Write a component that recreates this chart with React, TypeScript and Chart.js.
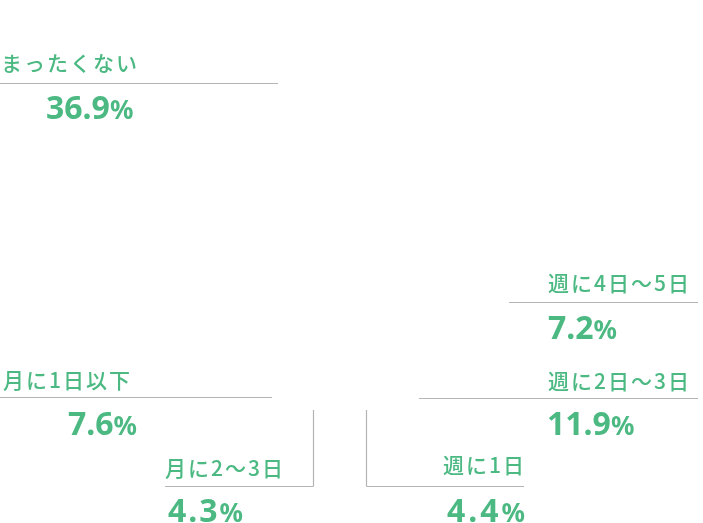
import React, { useEffect, useRef } from "react";
import { Chart, registerables } from "chart.js";

Chart.register(...registerables);

const categories = ["まったくない", "月に1日以下", "月に2〜3日", "週に1日", "週に2日〜3日", "週に4日〜5日"];
const values = [36.9, 7.6, 4.3, 4.4, 11.9, 7.2];

const GREEN = "#4cb983";
const GRAY = "#b4b4b4";

type Layout = {
  lx: number; ly: number; lAlign: CanvasTextAlign;
  x1: number; x2: number; y: number;
  vx: number; vy: number; vAlign: "left" | "right";
  vert?: [number, number, number];
  spacing: number;
};

const layout: Layout[] = [
  { lx: 1, ly: 63, lAlign: "left", x1: 0, x2: 278, y: 83.5, vx: 46, vy: 108, vAlign: "left", spacing: 0 },
  { lx: 3, ly: 380, lAlign: "left", x1: 0, x2: 272, y: 397.5, vx: 68, vy: 424, vAlign: "left", spacing: 0 },
  { lx: 165, ly: 468, lAlign: "left", x1: 165, x2: 313.5, y: 486.5, vx: 168, vy: 511, vAlign: "left", vert: [313.5, 410, 486.5], spacing: 2 },
  { lx: 524, ly: 465, lAlign: "right", x1: 366.5, x2: 524, y: 486.5, vx: 525, vy: 511, vAlign: "right", vert: [366.5, 410, 486.5], spacing: 3 },
  { lx: 548, ly: 381, lAlign: "left", x1: 419, x2: 698, y: 398.5, vx: 547, vy: 424, vAlign: "left", spacing: 0 },
  { lx: 548, ly: 283, lAlign: "left", x1: 509, x2: 698, y: 302.5, vx: 548, vy: 328, vAlign: "left", spacing: 0 },
];

const LABEL_FONT = "500 21px 'Noto Sans CJK JP', 'Noto Sans', sans-serif";
const LABEL_SPACING = 2;
const NUM_FONT = "bold 32px 'Noto Sans', 'Noto Sans CJK JP', sans-serif";
const PCT_FONT = "bold 26px 'Noto Sans', 'Noto Sans CJK JP', sans-serif";

const labelPlugin = {
  id: "calloutLabels",
  afterDraw(chart: any) {
    const ctx: CanvasRenderingContext2D = chart.ctx;
    const labels: string[] = chart.data.labels;
    const data: number[] = chart.data.datasets[0].data;
    ctx.save();
    labels.forEach((lab, i) => {
      const L = layout[i];
      // leader lines
      ctx.strokeStyle = GRAY;
      ctx.lineWidth = 1.2;
      ctx.beginPath();
      if (L.vert) {
        ctx.moveTo(L.vert[0], L.vert[1]);
        ctx.lineTo(L.vert[0], L.vert[2]);
      }
      ctx.moveTo(L.x1, L.y);
      ctx.lineTo(L.x2, L.y);
      ctx.stroke();

      // category text
      ctx.fillStyle = GREEN;
      ctx.font = LABEL_FONT;
      (ctx as any).letterSpacing = LABEL_SPACING + "px";
      ctx.textBaseline = "middle";
      ctx.textAlign = L.lAlign;
      ctx.fillText(lab, L.lAlign === "right" ? L.lx + LABEL_SPACING : L.lx, L.ly);

      // value text
      const num = data[i].toFixed(1);
      (ctx as any).letterSpacing = L.spacing + "px";
      ctx.font = NUM_FONT;
      const wNum = ctx.measureText(num).width;
      ctx.font = PCT_FONT;
      const wPct = ctx.measureText("%").width;
      const startX = L.vAlign === "left" ? L.vx : L.vx - wNum - wPct + L.spacing;
      ctx.textAlign = "left";
      ctx.textBaseline = "alphabetic";
      const base = L.vy + 10.5;
      ctx.font = NUM_FONT;
      ctx.fillText(num, startX, base);
      ctx.font = PCT_FONT;
      ctx.fillText("%", startX + wNum, base);
    });
    ctx.restore();
  },
};

export default function App() {
  const ref = useRef<HTMLCanvasElement | null>(null);
  useEffect(() => {
    if (!ref.current) return;
    const chart = new Chart(ref.current, {
      type: "doughnut",
      data: {
        labels: categories,
        datasets: [
          {
            data: values,
            backgroundColor: "rgba(255,255,255,0)",
            borderWidth: 0,
          },
        ],
      },
      options: {
        animation: false,
        responsive: true,
        maintainAspectRatio: false,
        events: [],
        plugins: {
          legend: { display: false },
          tooltip: { enabled: false },
        },
      },
      plugins: [labelPlugin],
    });
    return () => chart.destroy();
  }, []);
  return (
    <div style={{ position: "fixed", left: 0, top: 0, width: 703, height: 523, background: "#fff" }}>
      <canvas ref={ref} />
    </div>
  );
}
